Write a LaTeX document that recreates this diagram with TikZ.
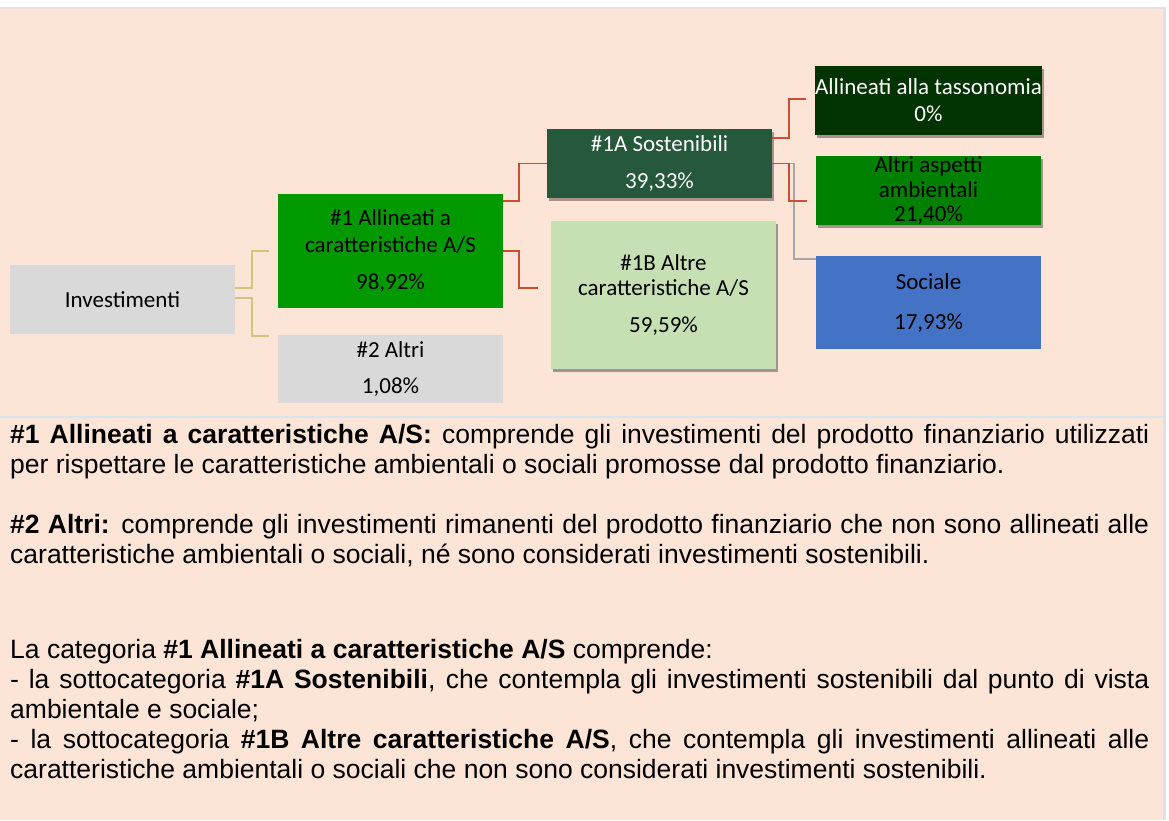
\documentclass[tikz,border=0pt]{standalone}
\usepackage{fontspec}
\setmainfont{Liberation Sans}
\newfontfamily\calfont{Carlito}
\usetikzlibrary{shadows}
\definecolor{peach}{RGB}{252,228,214}
\definecolor{edgegray}{RGB}{222,226,228}
\definecolor{sepcol}{RGB}{220,228,234}
\definecolor{boxgray}{RGB}{217,217,217}
\definecolor{gA}{RGB}{0,153,0}
\definecolor{gS}{RGB}{38,88,60}
\definecolor{gB}{RGB}{198,224,180}
\definecolor{gT}{RGB}{0,51,0}
\definecolor{gAlt}{RGB}{0,128,0}
\definecolor{bSoc}{RGB}{68,114,196}
\definecolor{khaki}{RGB}{212,196,122}
\definecolor{redline}{RGB}{200,80,48}
\definecolor{grayline}{RGB}{165,165,165}
\begin{document}
\begin{tikzpicture}[x=1pt,y=-1pt,
  box/.style={rectangle, inner sep=0pt, minimum width=225pt, align=center,
    font=\calfont\fontsize{23}{27}\selectfont},
  shad/.style={drop shadow={shadow xshift=2pt,shadow yshift=-3pt,opacity=0.35,fill=black}},
  conn/.style={line width=1.6pt},
  para/.style={anchor=base west, inner sep=0pt, font=\fontsize{26.5}{30}\selectfont}]
\useasboundingbox (0,0) rectangle (1169,820);
% background
\fill[white] (0,0) rectangle (1169,820);
\fill[edgegray] (0,7) rectangle (1166,820);
\fill[peach] (0,9) rectangle (1163,820);
\draw[sepcol, line width=2pt] (0,417) -- (1163,417);

% boxes
\node[box, fill=boxgray, minimum height=69pt] (inv) at (122.5,299.5) {Investimenti};
\node[box, fill=gA, minimum height=114pt] (a1) at (390.5,251) {\#1 Allineati a\\caratteristiche A/S\\[10pt]98,92\%};
\node[box, fill=boxgray, minimum height=68pt] (a2) at (390.5,369) {\#2 Altri\\[9pt]1,08\%};
\node[box, shad, fill=gS, text=white, minimum height=69pt] (s1a) at (659.5,163.5) {\#1A Sostenibili\\[10pt]39,33\%};
\node[box, shad, fill=gB, minimum height=148pt] (s1b) at (663.5,295) {\#1B Altre\\[-2pt]caratteristiche A/S\\[10pt]59,59\%};
\node[box, shad, fill=gT, text=white, minimum height=69pt] (tax) at (928.5,100.5) {Allineati alla tassonomia\\0\%};
\node[box, shad, fill=gAlt, minimum height=69pt] (alt) at (928.5,190.5) {Altri aspetti\\[-2.5pt]ambientali\\[-2.5pt]21,40\%};
\node[box, fill=bSoc, minimum height=93pt] (soc) at (928.5,302.5) {Sociale\\[13pt]17,93\%};

% connectors
\draw[conn, khaki, shorten >=9pt] ([yshift=11.5pt]inv.east) -- ++(17,0) |- (a1.west);
\draw[conn, khaki, shorten >=9pt] ([yshift=1.5pt]inv.east) -- ++(17,0) |- ([yshift=33pt]a2.west);
\draw[conn, redline] ([yshift=50pt]a1.east) -- ++(16,0) |- (s1a.west);
\draw[conn, redline, shorten >=13pt] (a1.east) -- ++(16,0) |- ([yshift=7pt]s1b.west);
\draw[conn, grayline] (s1a.east) -- ++(22,0) |- ([yshift=43.5pt]soc.west);
\draw[conn, redline, shorten >=9pt] ([yshift=25.5pt]s1a.east) -- ++(17,0) |- ([yshift=1.5pt]tax.west);
\draw[conn, redline, shorten >=9pt] (s1a.east) -- ++(17,0) |- ([yshift=-10.5pt]alt.west);

% text
\node[para] (t1) at (10,443) {\makebox[1139pt][s]{\textbf{\#1 Allineati a caratteristiche A/S:} comprende gli investimenti del prodotto finanziario utilizzati}};
\node[para] (t2) at (10,473) {per rispettare le caratteristiche ambientali o sociali promosse dal prodotto finanziario.};
\node[para] (t3) at (10,533) {\makebox[1139pt][s]{\textbf{\#2 Altri:} comprende gli investimenti rimanenti del prodotto finanziario che non sono allineati alle}};
\node[para] (t4) at (10,563) {caratteristiche ambientali o sociali, né sono considerati investimenti sostenibili.};
\node[para] (t5) at (10,658) {La categoria \textbf{\#1 Allineati a caratteristiche A/S} comprende:};
\node[para] (t6) at (10,688) {\makebox[1139pt][s]{- la sottocategoria \textbf{\#1A Sostenibili}, che contempla gli investimenti sostenibili dal punto di vista}};
\node[para] (t7) at (10,718) {ambientale e sociale;};
\node[para] (t8) at (10,748) {\makebox[1139pt][s]{- la sottocategoria \textbf{\#1B Altre caratteristiche A/S}, che contempla gli investimenti allineati alle}};
\node[para] (t9) at (10,778) {caratteristiche ambientali o sociali che non sono considerati investimenti sostenibili.};
\end{tikzpicture}
\end{document}
